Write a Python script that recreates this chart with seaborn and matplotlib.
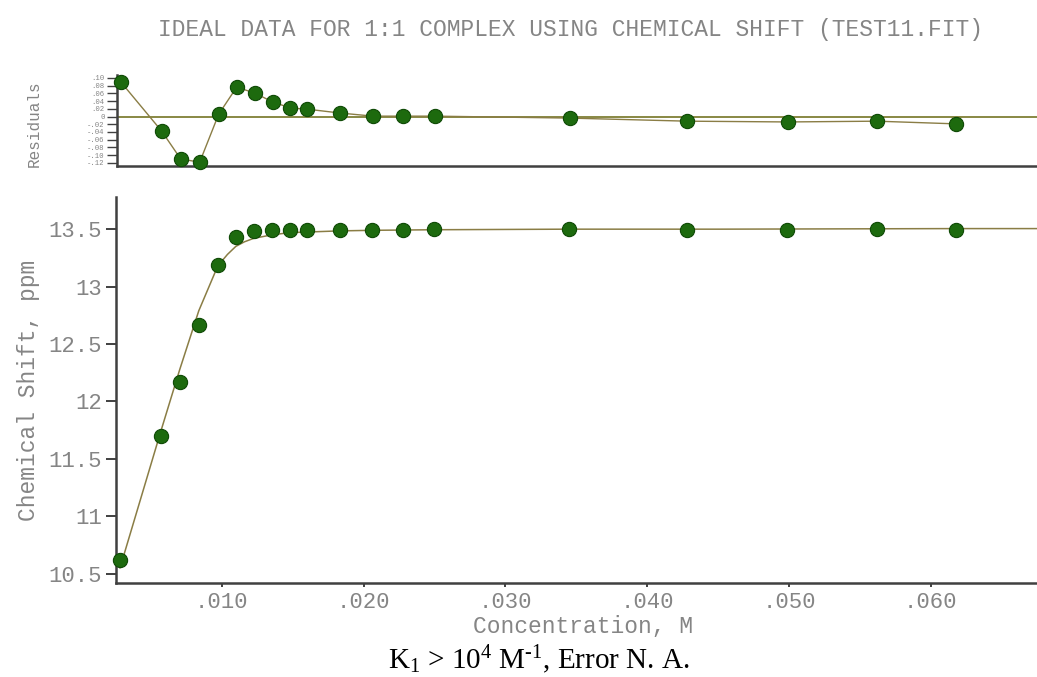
import numpy as np
import pandas as pd
import matplotlib
matplotlib.use("Agg")
import matplotlib.pyplot as plt
import seaborn as sns

# ---- data ----
conc = [0.00282, 0.00570, 0.00704, 0.00838, 0.00972, 0.01099, 0.01225, 0.01352,
        0.01479, 0.01599, 0.01831, 0.02063, 0.02275, 0.02500, 0.03450, 0.04280,
        0.04990, 0.05620, 0.06180]
shift = [10.62, 11.70, 12.17, 12.67, 13.19, 13.43, 13.48, 13.49,
         13.49, 13.49, 13.49, 13.49, 13.49, 13.50, 13.50, 13.49,
         13.49, 13.50, 13.49]
resid = [0.089, -0.038, -0.110, -0.118, 0.006, 0.076, 0.061, 0.038,
         0.022, 0.019, 0.009, 0.001, 0.001, 0.001, -0.004, -0.012,
         -0.014, -0.012, -0.019]
fit_x = [0.00282, 0.00570, 0.00704, 0.00838, 0.00972, 0.01040, 0.01099, 0.01160,
         0.01225, 0.01352, 0.01479, 0.01599, 0.01831, 0.02063, 0.02500, 0.03450,
         0.04500, 0.06180, 0.06750]
fit_y = [10.55, 11.74, 12.28, 12.79, 13.18, 13.28, 13.35, 13.39,
         13.42, 13.45, 13.47, 13.475, 13.485, 13.49, 13.495, 13.50,
         13.50, 13.505, 13.505]
x_ticks = [0.010, 0.020, 0.030, 0.040, 0.050, 0.060]
x_tick_labels = [".010", ".020", ".030", ".040", ".050", ".060"]
y_ticks = [10.5, 11, 11.5, 12, 12.5, 13, 13.5]
y_tick_labels = ["10.5", "11", "11.5", "12", "12.5", "13", "13.5"]
r_ticks = [0.10, 0.08, 0.06, 0.04, 0.02, 0.0, -0.02, -0.04, -0.06, -0.08, -0.10, -0.12]
r_tick_labels = [".10", ".08", ".06", ".04", ".02", "0", "-.02", "-.04", "-.06", "-.08", "-.10", "-.12"]

title = "IDEAL DATA FOR 1:1 COMPLEX USING CHEMICAL SHIFT (TEST11.FIT)"
caption = r"K$_1$ > 10$^4$ M$^{\text{-}1}$, Error N. A."

df = pd.DataFrame({"conc": conc, "shift": shift, "resid": resid})
fit = pd.DataFrame({"x": fit_x, "y": fit_y})

sns.set_style("white")
plt.rcParams["font.family"] = ["Liberation Mono", "DejaVu Sans Mono"]
plt.rcParams["mathtext.fontset"] = "custom"
plt.rcParams["mathtext.rm"] = "Liberation Serif"
plt.rcParams["mathtext.it"] = "Liberation Serif:italic"

TXT = "#858585"
SPINE = "#404040"
MFACE = "#1d6a0e"
MEDGE = "#0f4a06"
LINE = "#8a7d45"
ZERO = "#7f7f35"

fig = plt.figure(figsize=(10.37, 6.77), dpi=100)
W, H = 1037, 677

def rect(l, t, r, b):
    return [l / W, 1 - b / H, (r - l) / W, (b - t) / H]

ax = fig.add_axes(rect(116, 197, 1037, 583))
axr = fig.add_axes(rect(117, 75, 1037, 166))

xlim = (0.00254, 0.0675)

# ---- main panel ----
sns.lineplot(data=fit, x="x", y="y", ax=ax, color=LINE, lw=1.1, sort=False,
             estimator=None, zorder=2)
sns.scatterplot(data=df, x="conc", y="shift", ax=ax, s=105, color=MFACE,
                edgecolor=MEDGE, linewidth=0.8, zorder=3, clip_on=False)
ax.set_xlim(*xlim)
ax.set_ylim(10.42, 13.78)
ax.set_xticks(x_ticks)
ax.set_xticklabels(x_tick_labels)
ax.set_yticks(y_ticks)
ax.set_yticklabels(y_tick_labels)
for s in ["top", "right"]:
    ax.spines[s].set_visible(False)
for s in ["left", "bottom"]:
    ax.spines[s].set_color(SPINE)
    ax.spines[s].set_linewidth(1.8)
ax.tick_params(axis="y", direction="out", length=7, width=1.4, color=SPINE,
               labelsize=16, labelcolor=TXT, pad=3, left=True)
ax.tick_params(axis="x", direction="out", length=3, width=1.4, color=SPINE,
               labelsize=16, labelcolor=TXT, pad=3.5, bottom=True)
ax.set_xlabel("Concentration, M", fontsize=16.5, color=TXT)
ax.set_ylabel("Chemical Shift, ppm", fontsize=16.5, color=TXT)
ax.xaxis.set_label_coords(0.507, -0.113)
ax.xaxis.label.set_va("center")
ax.yaxis.set_label_coords(-0.0945, 0.5)
ax.yaxis.label.set_va("center")

# ---- residuals panel ----
axr.axhline(0, color=ZERO, lw=1.3, zorder=1)
sns.lineplot(data=df, x="conc", y="resid", ax=axr, color=LINE, lw=1.0, sort=False,
             estimator=None, zorder=2)
sns.scatterplot(data=df, x="conc", y="resid", ax=axr, s=105, color=MFACE,
                edgecolor=MEDGE, linewidth=0.8, zorder=3, clip_on=False)
axr.set_xlim(*xlim)
axr.set_ylim(-0.128, 0.1075)
axr.set_xticks([])
axr.set_yticks(r_ticks)
axr.set_yticklabels(r_tick_labels)
for s in ["top", "right"]:
    axr.spines[s].set_visible(False)
for s in ["left", "bottom"]:
    axr.spines[s].set_color(SPINE)
    axr.spines[s].set_linewidth(1.8)
axr.tick_params(axis="y", direction="out", length=7, width=1.0, color=SPINE,
                labelsize=5.2, labelcolor=TXT, pad=2, left=True)
axr.set_xlabel("")
axr.set_ylabel("Residuals", fontsize=11.5, color=TXT)
axr.yaxis.set_label_coords(-0.09, 0.47)
axr.yaxis.label.set_va("center")

fig.text(0.55, 0.957, title, ha="center", va="center", fontsize=16.5, color=TXT)
fig.text(0.52, 0.026, caption, ha="center", va="center", fontsize=21,
         color="black", family="Liberation Serif")

fig.savefig("out.png", dpi=100)
